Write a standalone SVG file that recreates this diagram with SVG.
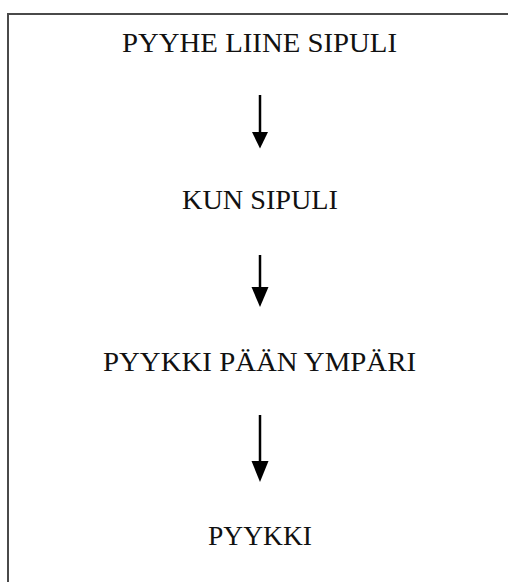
<svg xmlns="http://www.w3.org/2000/svg" width="508" height="582" viewBox="0 0 508 582">
  <style>
    .frame { fill: none; stroke: #4a4a4a; stroke-width: 2; }
    .label { font-family: "Liberation Serif", "Times New Roman", serif; font-size: 27px; fill: #111; text-anchor: middle; }
    .shaft { stroke: #000; stroke-width: 2.5; fill: none; }
    .head { fill: #000; }
  </style>
  <rect width="508" height="582" fill="#fff"/>
  <!-- open frame: top and left edges only -->
  <path class="frame" d="M8 590 V14 H510"/>

  <g id="node-1"><text class="label" x="259.5" y="52" textLength="275" lengthAdjust="spacingAndGlyphs">PYYHE LIINE SIPULI</text></g>
  <g id="node-2"><text class="label" x="260" y="209" textLength="156" lengthAdjust="spacingAndGlyphs">KUN SIPULI</text></g>
  <g id="node-3"><text class="label" x="259.5" y="371" textLength="313" lengthAdjust="spacingAndGlyphs">PYYKKI PÄÄN YMPÄRI</text></g>
  <g id="node-4"><text class="label" x="260" y="545" textLength="104" lengthAdjust="spacingAndGlyphs">PYYKKI</text></g>

  <g id="connectors">
    <line class="shaft" x1="260" y1="95" x2="260" y2="134"/>
    <polygon class="head" points="252,132 268,132 260,148.5"/>
    <line class="shaft" x1="260" y1="255" x2="260" y2="290"/>
    <polygon class="head" points="251.5,287 268.5,287 260,307"/>
    <line class="shaft" x1="260" y1="415" x2="260" y2="464"/>
    <polygon class="head" points="251.5,461 268.5,461 260,482"/>
  </g>
</svg>
